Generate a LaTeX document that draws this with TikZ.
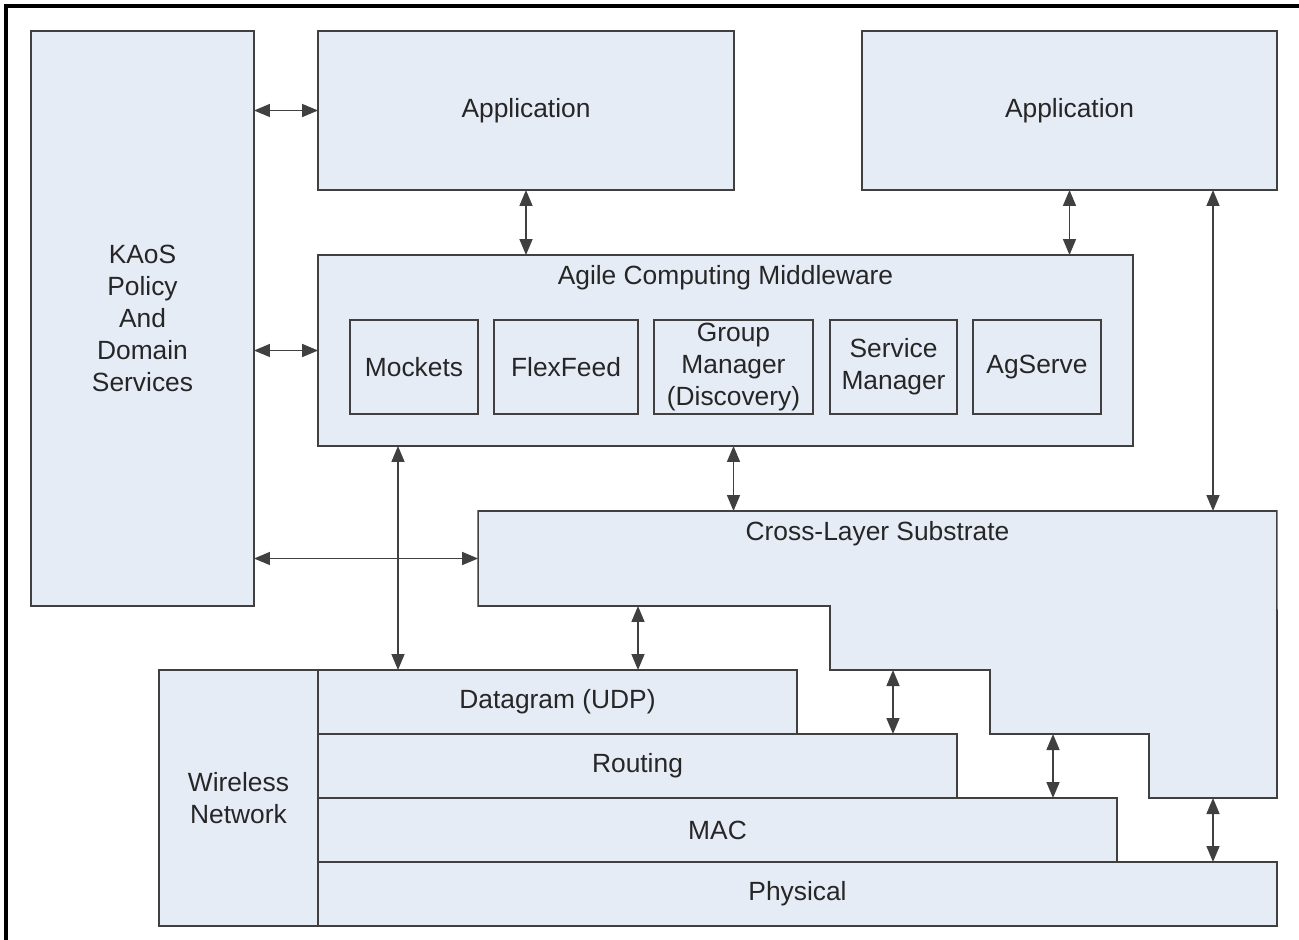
\documentclass[tikz,border=0pt]{standalone}
\usepackage{fontspec}
\setmainfont{Liberation Sans}
\usetikzlibrary{arrows.meta}
\definecolor{boxfill}{RGB}{230,236,246}
\definecolor{boxline}{RGB}{64,64,64}
\tikzstyle{box} = [rectangle, draw=boxline, fill=boxfill, line width=0.9pt, inner sep=0pt, outer sep=0pt, align=center, text=black!85]
\tikzstyle{module} = [box, minimum height=1.88cm]
\tikzstyle{layer} = [box, minimum height=1.28cm]
\tikzstyle{title} = [text=black!85]
\tikzstyle{arrow} = [draw=boxline, line width=0.9pt, {Triangle[length=0.32cm,width=0.26cm]}-{Triangle[length=0.32cm,width=0.26cm]}]

\begin{document}
\begin{tikzpicture}[x=0.02cm, y=-0.02cm, font=\fontsize{15}{18.2}\selectfont]
           \useasboundingbox (0,0) rectangle (1299,940);
           \draw [line width=2.2pt] (6,940) -- (6,6) -- (1299,6);

           \node (kaos) [box, minimum width=4.46cm, minimum height=11.5cm] at (142.5,318.5) {KAoS\\Policy\\And\\Domain\\Services};
           \node (app1) [box, minimum width=8.32cm, minimum height=3.18cm] at (526,110.5) {Application};
           \node (app2) [box, minimum width=8.30cm, minimum height=3.18cm] at (1069.5,110.5) {Application};

           \node (mw) [box, minimum width=16.30cm, minimum height=3.82cm] at (725.5,350.5) {};
           \node (mwtitle) [title] at (725.5,278) {Agile Computing Middleware};
           \node (mockets) [module, minimum width=2.56cm] at (414,367) {Mockets};
           \node (flexfeed) [module, minimum width=2.88cm] at (566,367) {FlexFeed};
           \node (group) [module, minimum width=3.18cm] at (733.5,367) {Group\\Manager\\(Discovery)};
           \node (service) [module, minimum width=2.54cm] at (893.5,367) {Service\\Manager};
           \node (agserve) [module, minimum width=2.56cm] at (1037,367) {AgServe};

           % cross-layer substrate (stair shape)
           \node (cross) [inner sep=0pt, outer sep=0pt, minimum width=15.98cm, minimum height=1.90cm] at (877.5,558.5) {};
           \draw [draw=boxline, fill=boxfill, line width=0.9pt] (cross.north west) -- (cross.north east) -- (1277,798) -- (1149,798) -- (1149,734) -- (990,734) -- (990,670) -- (830,670) -- (830,606) -- (cross.south west) -- cycle;
           \node (crosstitle) [title] at (877.5,534) {Cross-Layer Substrate};

           \node (wireless) [box, minimum width=3.18cm, minimum height=5.12cm] at (238.5,798) {Wireless\\Network};
           \node (dgram) [layer, minimum width=9.58cm] at (557.5,702) {Datagram (UDP)};
           \node (routing) [layer, minimum width=12.78cm] at (637.5,766) {Routing};
           \node (mac) [layer, minimum width=15.98cm] at (717.5,830) {MAC};
           \node (phys) [layer, minimum width=19.18cm] at (797.5,894) {Physical};

           \coordinate (xr) at (1213,0);
           \coordinate (xu) at (398,0);
           \coordinate (xa) at (638,0);
           \coordinate (s1) at (893,670);
           \coordinate (s2) at (1053,734);
           \coordinate (s3) at (1213,798);

           \draw [arrow] (kaos.east |- app1.west) -- (app1.west);
           \draw [arrow] (kaos.east |- mw.west) -- (mw.west);
           \draw [arrow] (kaos.east |- cross.west) -- (cross.west);
           \draw [arrow] (app1.south) -- (app1.south |- mw.north);
           \draw [arrow] (app2.south) -- (app2.south |- mw.north);
           \draw [arrow] (app2.south -| xr) -- (cross.north -| xr);
           \draw [arrow] (mw.south -| xu) -- (dgram.north -| xu);
           \draw [arrow] (mw.south -| group.south) -- (cross.north -| group.south);
           \draw [arrow] (cross.south -| xa) -- (dgram.north -| xa);
           \draw [arrow] (s1) -- (routing.north -| s1);
           \draw [arrow] (s2) -- (mac.north -| s2);
           \draw [arrow] (s3) -- (phys.north -| s3);
        \end{tikzpicture}
\end{document}
